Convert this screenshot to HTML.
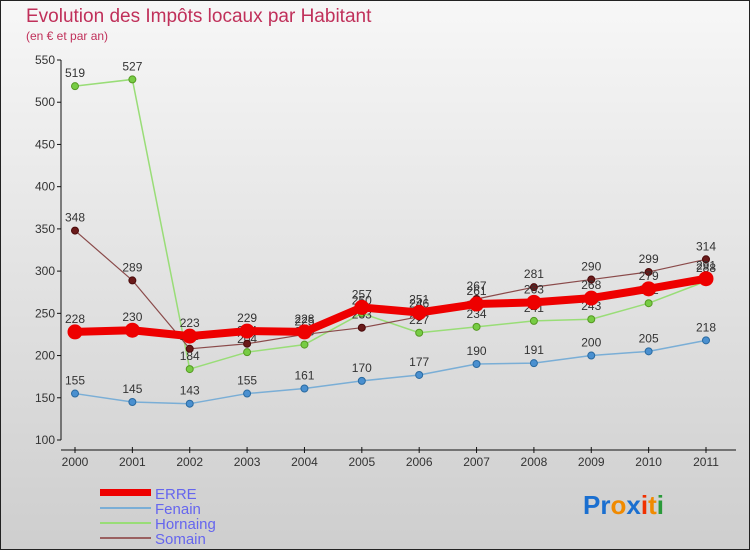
<!DOCTYPE html>
<html><head><meta charset="utf-8"><style>
body{margin:0}
#wrap{width:750px;height:550px;position:relative;overflow:hidden;font-family:"Liberation Sans","DejaVu Sans",sans-serif}
svg text{font-family:"Liberation Sans","DejaVu Sans",sans-serif}
</style></head><body>
<div id="wrap">
<svg id="chart" width="750" height="550" xmlns="http://www.w3.org/2000/svg">
<defs><linearGradient id="bg" x1="0" y1="0" x2="0" y2="1"><stop offset="0" stop-color="#f7f7f7"/><stop offset="1" stop-color="#cecece"/></linearGradient></defs>
<rect x="0.5" y="0.5" width="749" height="549" fill="url(#bg)" stroke="#222"/>
<text x="26" y="22" font-size="19" fill="#c0305a">Evolution des Impôts locaux par Habitant</text>
<text x="26" y="40" font-size="12" fill="#c0305a">(en € et par an)</text>
<g id="axes"></g><g id="series"></g>
<g>
<rect x="100" y="489" width="51" height="7" fill="#e00"/>
<text x="155" y="499" font-size="15" fill="#6666ee">ERRE</text>
<line x1="100" y1="508" x2="151" y2="508" stroke="#7aaed6" stroke-width="2"/>
<text x="155" y="514" font-size="15" fill="#6666ee">Fenain</text>
<line x1="100" y1="523" x2="151" y2="523" stroke="#99dd77" stroke-width="2"/>
<text x="155" y="529" font-size="15" fill="#6666ee">Hornaing</text>
<line x1="100" y1="538" x2="151" y2="538" stroke="#9a6060" stroke-width="2"/>
<text x="155" y="544" font-size="15" fill="#6666ee">Somain</text>
</g>
<g font-size="26" font-weight="bold">
<text x="583" y="514"><tspan fill="#1a6fd0">Pr</tspan><tspan fill="#f08a00">o</tspan><tspan fill="#1a6fd0">x</tspan><tspan fill="#f03000">i</tspan><tspan fill="#f08a00">t</tspan><tspan fill="#2a9a3a">i</tspan></text>
</g>
</svg></div>
<script>
const years=["2000","2001","2002","2003","2004","2005","2006","2007","2008","2009","2010","2011"];
const erre=[228,230,223,229,228,257,251,261,263,268,279,291];
const fenain=[155,145,143,155,161,170,177,190,191,200,205,218];
const hornaing=[519,527,184,204,213,250,227,234,241,243,262,288];
const somain=[348,289,208,214,225,233,246,267,281,290,299,314];
const yTicks=[100,150,200,250,300,350,400,450,500,550];
const NS="http://www.w3.org/2000/svg";
const X0=75,X1=706,Y0=440,Y1=60,VMIN=100,VMAX=550;
function xs(i){return X0+(X1-X0)*i/(years.length-1);}
function ys(v){return Y0-(v-VMIN)/(VMAX-VMIN)*(Y0-Y1);}
function mk(tag,attrs,parent){const e=document.createElementNS(NS,tag);for(const k in attrs)e.setAttribute(k,attrs[k]);parent.appendChild(e);return e;}
const ax=document.getElementById('axes');
let l=mk('line',{x1:61,y1:Y1,x2:61,y2:Y0,stroke:'#111'},ax);


l=mk('line',{x1:61,y1:450,x2:736,y2:450,stroke:'#111'},ax);


yTicks.forEach(v=>{const y=ys(v);
 mk('line',{x1:57,y1:y,x2:61,y2:y,stroke:'#111'},ax);
 const t=mk('text',{x:55,y:y+4,'text-anchor':'end','font-size':12,fill:'#333'},ax);t.textContent=v;
 
 });
years.forEach((yr,i)=>{const x=xs(i);
 mk('line',{x1:x,y1:447,x2:x,y2:453,stroke:'#111'},ax);
 const t=mk('text',{x:x,y:466,'text-anchor':'middle','font-size':12,fill:'#333'},ax);t.textContent=yr;
 
 });
const sg=document.getElementById('series');
function draw(name,data,color,w,r,dot,stroke){
 const g=mk('g',{},sg);
 
 
 const p=mk('polyline',{points:data.map((v,i)=>xs(i)+','+ys(v)).join(' '),fill:'none',stroke:color,'stroke-width':w,'stroke-linejoin':'round'},g);
 
 
 data.forEach((v,i)=>{const c=mk('circle',{cx:xs(i),cy:ys(v),r:r,fill:dot,stroke:stroke,'stroke-width':1},g);
  
  
  const t=mk('text',{x:xs(i),y:ys(v)-9,'text-anchor':'middle','font-size':12,fill:'#333'},g);t.textContent=v;
  
  });
}
draw('hornaing',hornaing,'#99dd77',1.5,3.5,'#77cc44','#559922');
draw('fenain',fenain,'#7aaed6',1.5,3.5,'#4a90d0','#2a6aa0');
draw('somain',somain,'#8a4a4a',1.2,3.5,'#6a1a1a','#4a0a0a');
draw('erre',erre,'#ee0000',8,7,'#ee0000','#ee0000');
</script></body></html>
